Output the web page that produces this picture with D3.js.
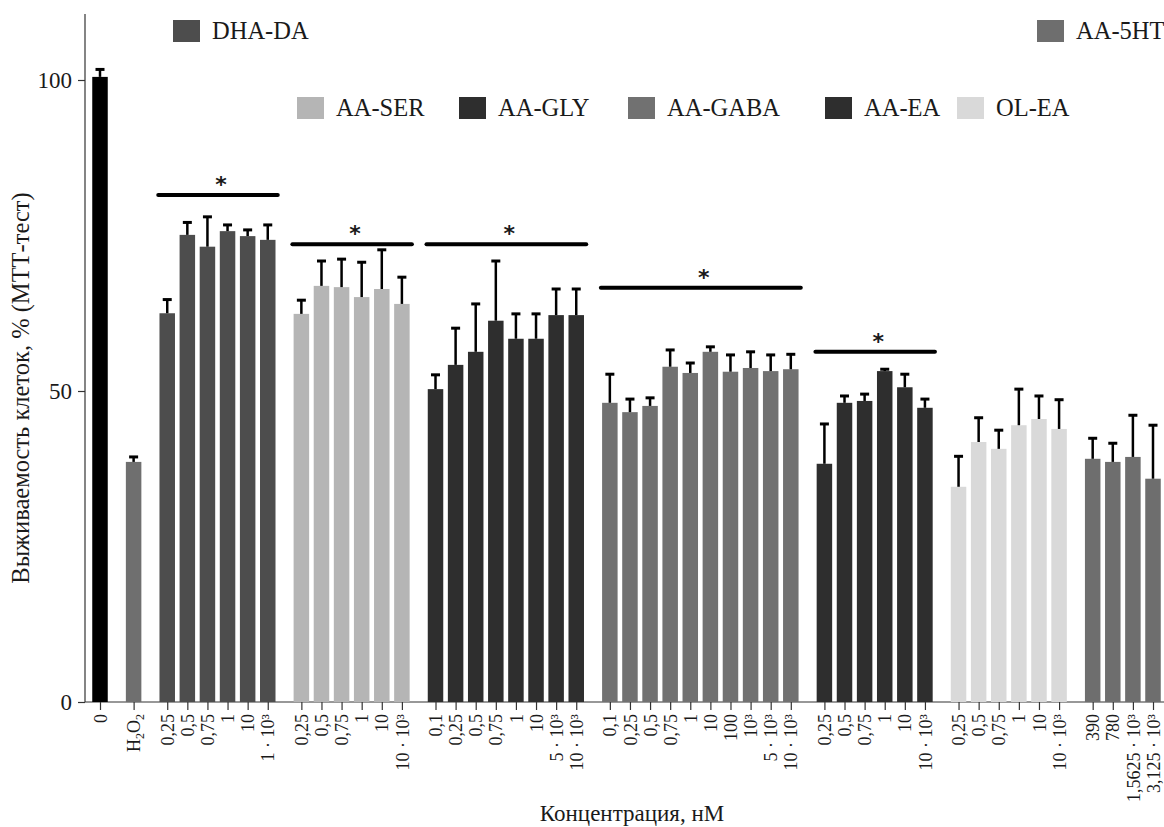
<!DOCTYPE html>
<head>
    <meta charset="utf-8">
    <script src="https://d3js.org/d3.v7.min.js"></script>
    <style>
        body { margin:0; background:#fff; overflow:hidden; }
        svg text { font-family:"Liberation Serif", "Times New Roman", serif; fill:#1a1a1a; }
    </style>
</head>
<body>
<div id="chart"></div>
<script>

    // ******************** Data ************************
    // one entry per group of bars; labels are concentrations, nM
    var groupNames  = ["control", "H2O2", "DHA-DA", "AA-SER", "AA-GLY", "AA-GABA", "AA-EA", "OL-EA", "AA-5HT"];
    var groupColors = ["#000000", "#6f6f6f", "#4d4d4d", "#b5b5b5", "#2e2e2e", "#717171", "#2e2e2e", "#d9d9d9", "#6e6e6e"];

    var controlConc = ["0"];
    var controlVal  = [100.5];
    var controlErr  = [1.2];

    var h2o2Conc = ["H2O2"];
    var h2o2Val  = [38.6];
    var h2o2Err  = [0.8];

    var dhaConc = ["0,25", "0,5", "0,75", "1", "10", "1 · 10³"];
    var dhaVal  = [62.5, 75.1, 73.2, 75.7, 74.9, 74.3];
    var dhaErr  = [2.2, 2.0, 4.8, 1.0, 1.0, 2.4];

    var serConc = ["0,25", "0,5", "0,75", "1", "10", "10 · 10³"];
    var serVal  = [62.4, 66.9, 66.7, 65.1, 66.4, 64.0];
    var serErr  = [2.2, 4.0, 4.5, 5.6, 6.3, 4.3];

    var glyConc = ["0,1", "0,25", "0,5", "0,75", "1", "10", "5 · 10³", "10 · 10³"];
    var glyVal  = [50.3, 54.2, 56.3, 61.3, 58.4, 58.4, 62.2, 62.2];
    var glyErr  = [2.3, 5.9, 7.7, 9.6, 4.0, 4.0, 4.2, 4.2];

    var gabaConc = ["0,1", "0,25", "0,5", "0,75", "1", "10", "100", "10³", "5 · 10³", "10 · 10³"];
    var gabaVal  = [48.1, 46.6, 47.6, 53.9, 52.9, 56.3, 53.1, 53.7, 53.2, 53.5];
    var gabaErr  = [4.6, 2.1, 1.3, 2.7, 1.6, 0.8, 2.7, 2.6, 2.6, 2.4];

    var eaConc = ["0,25", "0,5", "0,75", "1", "10", "10 · 10³"];
    var eaVal  = [38.3, 48.1, 48.4, 53.2, 50.6, 47.3];
    var eaErr  = [6.4, 1.1, 1.1, 0.3, 2.1, 1.4];

    var olConc = ["0,25", "0,5", "0,75", "1", "10", "10 · 10³"];
    var olVal  = [34.6, 41.8, 40.7, 44.5, 45.5, 43.9];
    var olErr  = [4.9, 3.9, 3.0, 5.8, 3.7, 4.7];

    var htConc = ["390", "780", "1,5625 · 10³", "3,125 · 10³"];
    var htVal  = [39.1, 38.6, 39.4, 35.9];
    var htErr  = [3.3, 3.0, 6.7, 8.6];

    var groupConc = [controlConc, h2o2Conc, dhaConc, serConc, glyConc, gabaConc, eaConc, olConc, htConc];
    var groupVal  = [controlVal, h2o2Val, dhaVal, serVal, glyVal, gabaVal, eaVal, olVal, htVal];
    var groupErr  = [controlErr, h2o2Err, dhaErr, serErr, glyErr, gabaErr, eaErr, olErr, htErr];

    // significance bars: group, level (%)
    var sigGroups = ["DHA-DA", "AA-SER", "AA-GLY", "AA-GABA", "AA-EA"];
    var sigLevel  = [81.5, 73.6, 73.6, 66.6, 56.3];

    var yTicks = [0, 50, 100];

    // ******************** Layout ************************
    var W = 1164, H = 827;
    var gap = 0.672;   // extra space between groups, in bar slots

    var bars = [];
    var idx = 0;
    groupNames.forEach(function (g, gi) {
        groupConc[gi].forEach(function (c, j) {
            bars.push({
                key: g + "|" + c, group: g, gi: gi, conc: c,
                value: groupVal[gi][j], err: groupErr[gi][j],
                pos: idx + gi * gap
            });
            idx++;
        });
    });

    var x = d3.scaleLinear().domain([0, (bars.length - 1) + (groupNames.length - 1) * gap]).range([100, 1153]);
    var y = d3.scaleLinear().domain([0, 100]).range([702, 80]);
    var xTick = d3.scaleOrdinal().domain(bars.map(function (d) { return d.key; }))
        .range(bars.map(function (d) { return x(d.pos); }));
    var bw = 15.5;

    var svg = d3.select("#chart").append("svg")
        .attr("width", W)
        .attr("height", H);

    // ******************** Axes ************************
    var yAxis = svg.append("g")
        .attr("transform", "translate(85,0)")
        .call(d3.axisLeft(y).tickValues(yTicks).tickSize(7).tickPadding(6));
    yAxis.select(".domain").remove();
    yAxis.selectAll(".tick line").attr("stroke", "#333").attr("stroke-width", 1.2);
    yAxis.selectAll(".tick text")
        .style("font-family", "Liberation Serif")
        .style("font-size", "23px")
        .attr("fill", "#1a1a1a");
    svg.append("line")
        .attr("x1", 85).attr("x2", 85)
        .attr("y1", 14).attr("y2", y(0))
        .attr("stroke", "#333").attr("stroke-width", 1.2);

    var xAxis = svg.append("g")
        .attr("transform", "translate(0," + y(0) + ")")
        .call(d3.axisBottom(xTick).tickSize(8).tickSizeOuter(0).tickFormat(""));
    xAxis.select(".domain").remove();
    xAxis.selectAll(".tick line").attr("stroke", "#333").attr("stroke-width", 1.2);
    svg.append("line")
        .attr("x1", 85).attr("x2", W)
        .attr("y1", y(0)).attr("y2", y(0))
        .attr("stroke", "#333").attr("stroke-width", 1.2);

    xAxis.selectAll(".tick").each(function (k) {
        var conc = k.split("|")[1];
        var t = d3.select(this).append("text")
            .attr("transform", "rotate(-90)")
            .attr("x", -12)
            .attr("dy", "0.34em")
            .attr("text-anchor", "end")
            .style("font-size", "18px")
            .attr("fill", "#1a1a1a");
        if (conc === "H2O2") {
            t.append("tspan").text("H");
            t.append("tspan").text("2").style("font-size", "12px").attr("dy", "0.35em");
            t.append("tspan").text("O").attr("dy", "-0.25em");
            t.append("tspan").text("2").style("font-size", "12px").attr("dy", "0.35em");
        } else {
            t.text(conc);
        }
    });

    // ******************** Bars ************************
    svg.append("g").selectAll("rect")
        .data(bars)
        .enter()
        .append("rect")
        .attr("x", function (d) { return x(d.pos) - bw / 2; })
        .attr("y", function (d) { return y(d.value); })
        .attr("width", bw)
        .attr("height", function (d) { return y(0) - y(d.value); })
        .attr("fill", function (d) { return groupColors[d.gi]; });

    var eb = svg.append("g").attr("stroke", "#000");
    eb.selectAll("line.v")
        .data(bars)
        .enter()
        .append("line")
        .attr("class", "v")
        .attr("x1", function (d) { return x(d.pos); })
        .attr("x2", function (d) { return x(d.pos); })
        .attr("y1", function (d) { return y(d.value); })
        .attr("y2", function (d) { return y(d.value + d.err); })
        .attr("stroke-width", 2.5);
    eb.selectAll("line.c")
        .data(bars)
        .enter()
        .append("line")
        .attr("class", "c")
        .attr("x1", function (d) { return x(d.pos) - 4.5; })
        .attr("x2", function (d) { return x(d.pos) + 4.5; })
        .attr("y1", function (d) { return y(d.value + d.err); })
        .attr("y2", function (d) { return y(d.value + d.err); })
        .attr("stroke-width", 3);

    // ******************** Significance ************************
    sigGroups.forEach(function (g, i) {
        var gb = bars.filter(function (d) { return d.group === g; });
        var x0 = x(gb[0].pos) - 9, x1 = x(gb[gb.length - 1].pos) + 10;
        var yy = y(sigLevel[i]);
        svg.append("line")
            .attr("x1", x0).attr("x2", x1)
            .attr("y1", yy).attr("y2", yy)
            .attr("stroke", "#000").attr("stroke-width", 4)
            .attr("stroke-linecap", "round");
        svg.append("text")
            .attr("x", (x0 + x1) / 2 + 3)
            .attr("y", yy - 3)
            .attr("text-anchor", "middle")
            .style("font-family", "DejaVu Sans")
            .style("font-weight", "bold")
            .style("font-size", "22px")
            .attr("fill", "#000")
            .text("*");
    });

    // ******************** Legend ************************
    var legendItems = [
        { g: "DHA-DA", x: 173, y: 20 },
        { g: "AA-5HT", x: 1037, y: 20 },
        { g: "AA-SER", x: 297, y: 97 },
        { g: "AA-GLY", x: 459, y: 97 },
        { g: "AA-GABA", x: 628, y: 97 },
        { g: "AA-EA", x: 825, y: 97 },
        { g: "OL-EA", x: 957, y: 97 }
    ];
    var lg = svg.append("g").selectAll("g")
        .data(legendItems)
        .enter()
        .append("g")
        .attr("transform", function (d) { return "translate(" + d.x + "," + d.y + ")"; });
    lg.append("rect")
        .attr("width", 27).attr("height", 22)
        .attr("fill", function (d) { return groupColors[groupNames.indexOf(d.g)]; });
    lg.append("text")
        .attr("x", 39).attr("y", 19)
        .style("font-size", "24.5px")
        .text(function (d) { return d.g; });

    // ******************** Titles ************************
    svg.append("text")
        .attr("transform", "translate(29,388) rotate(-90)")
        .attr("text-anchor", "middle")
        .style("font-size", "24.5px")
        .text("Выживаемость клеток, % (МТТ-тест)");

    svg.append("text")
        .attr("x", 632).attr("y", 821)
        .attr("text-anchor", "middle")
        .style("font-size", "23px")
        .text("Концентрация, нМ");

</script>
</body>
